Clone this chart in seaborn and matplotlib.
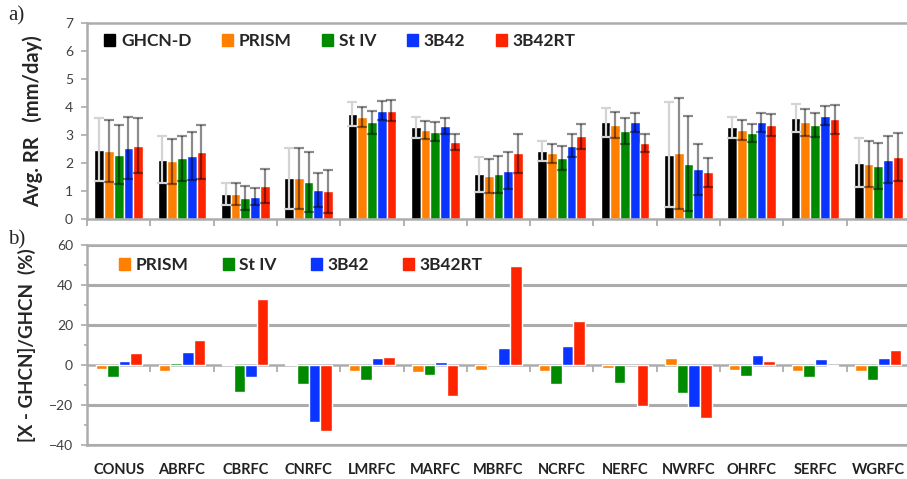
import matplotlib
matplotlib.use("Agg")
import matplotlib.pyplot as plt
from matplotlib.patches import Patch
from matplotlib.ticker import MultipleLocator, FixedLocator
import seaborn as sns
import pandas as pd
import numpy as np

regions = ["CONUS", "ABRFC", "CBRFC", "CNRFC", "LMRFC", "MARFC", "MBRFC",
           "NCRFC", "NERFC", "NWRFC", "OHRFC", "SERFC", "WGRFC"]

# panel a: average rain rate (mm/day) and its spread
ghcn = [2.48, 2.12, 0.89, 1.45, 3.74, 3.27, 1.59, 2.43, 3.45, 2.30, 3.27, 3.60, 2.01]
prism = [2.43, 2.06, 0.89, 1.45, 3.65, 3.18, 1.54, 2.34, 3.36, 2.34, 3.18, 3.45, 1.97]
stiv = [2.30, 2.17, 0.75, 1.31, 3.45, 3.12, 1.59, 2.19, 3.14, 1.97, 3.08, 3.36, 1.88]
b42 = [2.53, 2.25, 0.79, 1.04, 3.87, 3.32, 1.73, 2.62, 3.45, 1.77, 3.45, 3.69, 2.12]
b42rt = [2.62, 2.38, 1.17, 0.99, 3.87, 2.75, 2.34, 2.96, 2.72, 1.67, 3.36, 3.56, 2.20]

ghcn_sd = [1.14, 0.85, 0.39, 1.10, 0.43, 0.38, 0.63, 0.36, 0.53, 1.87, 0.36, 0.51, 0.88]
prism_sd = [1.12, 0.80, 0.38, 1.10, 0.36, 0.33, 0.61, 0.34, 0.45, 1.97, 0.36, 0.47, 0.81]
stiv_sd = [1.06, 0.80, 0.42, 1.07, 0.41, 0.34, 0.67, 0.43, 0.46, 1.70, 0.33, 0.43, 0.82]
b42_sd = [1.10, 0.86, 0.30, 0.62, 0.34, 0.28, 0.67, 0.42, 0.33, 0.92, 0.34, 0.33, 0.85]
b42rt_sd = [0.99, 0.96, 0.60, 0.76, 0.37, 0.30, 0.68, 0.45, 0.33, 0.51, 0.39, 0.51, 0.86]

# panel b: relative difference to GHCN (%)
prism_pct = [-2.2, -2.8, 0.5, 0.5, -2.8, -3.7, -2.5, -3.0, -1.7, 3.5, -2.5, -3.0, -3.0]
stiv_pct = [-5.8, 0.8, -13.3, -9.5, -7.5, -5.0, 0.7, -9.5, -8.8, -14.2, -5.5, -6.2, -7.5]
b42_pct = [2.2, 6.7, -5.8, -28.3, 3.3, 1.5, 8.7, 9.3, -0.2, -21.2, 4.8, 2.8, 3.5]
b42rt_pct = [5.8, 12.3, 33.0, -32.8, 4.0, -15.3, 49.3, 22.0, -20.5, -26.3, 2.0, -0.3, 7.3]

series_a = ["GHCN-D", "PRISM", "St IV", "3B42", "3B42RT"]
series_b = ["PRISM", "St IV", "3B42", "3B42RT"]
colors = {"GHCN-D": "#000000", "PRISM": "#FF7F00", "St IV": "#008A00",
          "3B42": "#0A34FF", "3B42RT": "#FF2400"}

vals_a = [ghcn, prism, stiv, b42, b42rt]
sds_a = [ghcn_sd, prism_sd, stiv_sd, b42_sd, b42rt_sd]
vals_b = [prism_pct, stiv_pct, b42_pct, b42rt_pct]

df_a = pd.DataFrame({"region": np.tile(regions, len(series_a)),
                     "series": np.repeat(series_a, len(regions)),
                     "value": np.concatenate(vals_a)})
df_b = pd.DataFrame({"region": np.tile(regions, len(series_b)),
                     "series": np.repeat(series_b, len(regions)),
                     "value": np.concatenate(vals_b)})

sns.set_style("white")
plt.rcParams["font.family"] = ["Lato", "DejaVu Sans"]

W, H = 907, 479
AXW = 823
fig = plt.figure(figsize=(W / 100, H / 100), dpi=100)
ax1 = fig.add_axes([87 / W, 1 - 219 / H, AXW / W, 196 / H])
ax2 = fig.add_axes([87 / W, 1 - 445 / H, AXW / W, 200 / H])

spine_c = "#acacac"
grid_c = "#ababab"
tick_c = "#404040"
n = len(regions)
bounds = np.arange(-0.5, n, 1.0)

# ---------- panel a ----------
sns.barplot(data=df_a, x="region", y="value", hue="series", order=regions,
            hue_order=series_a, palette=colors, width=0.77, gap=0,
            saturation=1, legend=False, errorbar=None, ax=ax1)
bar_conts = list(ax1.containers)
for i, cont in enumerate(bar_conts):
    xs = [b.get_x() + b.get_width() / 2 for b in cont]
    if i == 0:
        ax1.errorbar(xs, vals_a[i], yerr=sds_a[i], fmt="none", ecolor="#d4d4d4",
                     elinewidth=1.6, capsize=3.4, capthick=1.6, zorder=5)
    else:
        ax1.errorbar(xs, vals_a[i], yerr=sds_a[i], fmt="none", ecolor="black",
                     alpha=0.45, elinewidth=1.6, capsize=3.4, capthick=1.6, zorder=5)

ax1.set_xlim(-0.5, n - 0.5)
ax1.set_ylim(0, 7)
ax1.set_yticks(range(0, 8))
ax1.set_xlabel("")
ax1.set_ylabel("Avg. RR   (mm/day)", fontsize=14.5, fontweight="bold", labelpad=16)
ax1.set_xticks(range(n))
ax1.set_xticklabels([])
ax1.xaxis.set_minor_locator(FixedLocator(bounds))
ax1.tick_params(axis="x", which="major", length=0)
ax1.tick_params(axis="x", which="minor", length=5, width=1.3, color=spine_c, direction="out", bottom=True)
ax1.tick_params(axis="y", length=4, width=1.2, color=spine_c, direction="out", left=True,
                labelsize=10, labelcolor=tick_c, pad=6)
for s in ["left", "bottom", "top"]:
    ax1.spines[s].set_color(spine_c)
    ax1.spines[s].set_linewidth(1.8)
ax1.spines["right"].set_visible(False)

ax1.legend(handles=[Patch(color=colors[s], label=s) for s in series_a],
           loc="center left", bbox_to_anchor=(17 / AXW, 1 - 18 / 196), ncol=5,
           frameon=False, borderpad=0, borderaxespad=0, handlelength=0.63,
           handleheight=0.63, handletextpad=0.35, columnspacing=1.75,
           prop={"weight": "bold", "size": 12.5})

# ---------- panel b ----------
sns.barplot(data=df_b, x="region", y="value", hue="series", order=regions,
            hue_order=series_b, palette=colors, width=0.73, gap=0,
            saturation=1, legend=False, errorbar=None, ax=ax2, zorder=3)
ylo, yhi = -40, 60
ax2.set_xlim(-0.5, n - 0.5)
ax2.set_ylim(ylo, yhi)
ax2.set_yticks(range(ylo, yhi + 1, 20))
ax2.yaxis.set_minor_locator(MultipleLocator(10))
# horizontal gridlines at the major y ticks
for yv in ax2.get_yticks():
    if yv != 0:
        ax2.axhline(yv, color=grid_c, linewidth=2.2, zorder=2)
# zero line with category separators
ax2.axhline(0, color=spine_c, linewidth=1.8, zorder=2.2)
ax2.plot(bounds, np.zeros_like(bounds), linestyle="none", marker=3, markersize=5,
         markeredgewidth=1.3, color=spine_c, zorder=2.2)
ax2.set_xlabel("")
ax2.set_ylabel("[X - GHCN]/GHCN  (%)", fontsize=13.5, fontweight="bold", labelpad=9)
ax2.set_xticks(range(n))
ax2.set_xticklabels(regions, fontsize=10.5, fontweight="bold", color="#222222")
ax2.tick_params(axis="x", which="major", length=0, pad=13)
ax2.tick_params(axis="y", which="major", length=4, width=1.2, color=spine_c, direction="out",
                left=True, labelsize=10, labelcolor=tick_c, pad=6)
ax2.tick_params(axis="y", which="minor", length=2.5, width=1.2, color=spine_c, direction="out", left=True)
for s in ["left", "bottom", "top"]:
    ax2.spines[s].set_color(spine_c)
    ax2.spines[s].set_linewidth(1.8)
ax2.spines["right"].set_visible(False)

ax2.legend(handles=[Patch(color=colors[s], label=s) for s in series_b],
           loc="center left", bbox_to_anchor=(32 / AXW, 1 - 20 / 200), ncol=4,
           frameon=False, borderpad=0, borderaxespad=0, handlelength=0.63,
           handleheight=0.63, handletextpad=0.3, columnspacing=2.0,
           prop={"weight": "bold", "size": 12.5})

# panel letters
fig.text(8 / W, 1 - 16 / H, "a)", fontsize=15, family=["Liberation Serif", "DejaVu Serif"], va="center")
fig.text(8 / W, 1 - 240 / H, "b)", fontsize=15, family=["Liberation Serif", "DejaVu Serif"], va="center")

fig.savefig("out.png", dpi=100)
